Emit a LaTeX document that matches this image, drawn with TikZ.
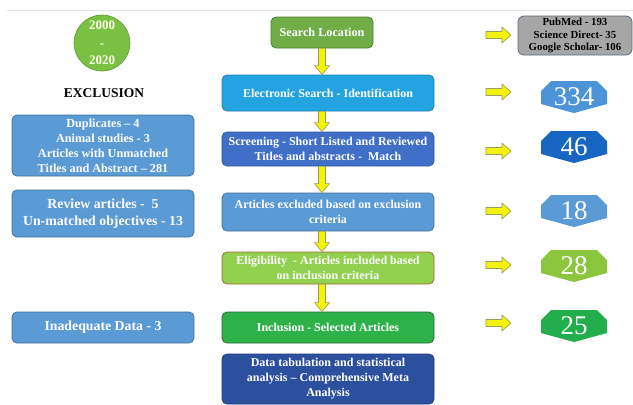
\documentclass[tikz,border=0pt]{standalone}
\usepackage{fontspec}
\setmainfont{Liberation Serif}
\usetikzlibrary{calc}
\definecolor{circg}{HTML}{7AC143}
\definecolor{circgd}{HTML}{5B9A30}
\definecolor{searchg}{HTML}{70AD47}
\definecolor{searchgd}{HTML}{4E7F30}
\definecolor{elecb}{HTML}{23A3DF}
\definecolor{elecbd}{HTML}{1C84B5}
\definecolor{scrb}{HTML}{3F6FC6}
\definecolor{scrbd}{HTML}{2F549A}
\definecolor{exb}{HTML}{5B9BD5}
\definecolor{exbd}{HTML}{41719C}
\definecolor{elig}{HTML}{92D050}
\definecolor{eligd}{HTML}{A86B2D}
\definecolor{inclg}{HTML}{2DB24A}
\definecolor{inclgd}{HTML}{2A6B35}
\definecolor{datab}{HTML}{2C4F9E}
\definecolor{databd}{HTML}{213B78}
\definecolor{grayb}{HTML}{A6A6A6}
\definecolor{graybd}{HTML}{5F6B7A}
\definecolor{hexa}{HTML}{4C93D8}
\definecolor{hexb}{HTML}{1766C1}
\definecolor{hexc}{HTML}{5B9BD5}
\definecolor{hexd}{HTML}{8CC63F}
\definecolor{hexe}{HTML}{21AE4B}
\definecolor{yel}{HTML}{F2F20A}
\definecolor{yeld}{HTML}{9C9C5A}
\definecolor{topline}{HTML}{E2E2E2}

\newcommand{\downblock}[2]{%
 \draw[yarrow] let \p1=(#1), \p2=(#2) in
  (\x1-3.5pt,\y1) -- (\x1+3.5pt,\y1) -- (\x1+3.5pt,\y2+9pt) -- (\x1+7.5pt,\y2+9pt)
  -- (\x1,\y2) -- (\x1-7.5pt,\y2+9pt) -- (\x1-3.5pt,\y2+9pt) -- cycle;}
\newcommand{\rightblock}[1]{%
 \draw[yarrow] let \p1=(#1) in
  (\x1,\y1+3.5pt) -- (\x1+16pt,\y1+3.5pt) -- (\x1+16pt,\y1+8pt) -- (\x1+25pt,\y1)
  -- (\x1+16pt,\y1-8pt) -- (\x1+16pt,\y1-3.5pt) -- (\x1,\y1-3.5pt) -- cycle;}
\newcommand{\hexnode}[4]{%
 \coordinate (#1c) at (#2);
 \fill[#3] ([shift={(-23pt,16pt)}]#1c) -- ([shift={(23pt,16pt)}]#1c)
  -- ([shift={(33pt,6pt)}]#1c) -- ([shift={(33pt,-7pt)}]#1c)
  -- ([shift={(0pt,-16pt)}]#1c) -- ([shift={(-33pt,-7pt)}]#1c)
  -- ([shift={(-33pt,6pt)}]#1c) -- cycle;
 \node[hexnum] (#1) at (#1c) {#4};}

\begin{document}
\begin{tikzpicture}[x=1pt,y=-1pt,
  cbox/.style={draw, rounded corners=5pt, minimum width=212pt, inner sep=1pt,
    text=white, align=center, line width=0.8pt,
    font=\bfseries\fontsize{12}{15}\selectfont},
  lbox/.style={cbox, minimum width=182pt, fill=exb, draw=exbd},
  yarrow/.style={fill=yel, draw=yeld, line width=0.6pt, line join=miter},
  hexnum/.style={inner sep=0pt, text=white, font=\fontsize{27}{27}\selectfont}]
\useasboundingbox (0,0) rectangle (633,405);
\fill[white] (0,0) rectangle (633,405);
\draw[topline, line width=0.8pt] (7,10.5) -- (633,10.5);

% left column
\node[circle, fill=circg, draw=circgd, line width=0.6pt, minimum size=56pt, inner sep=0pt,
  text=white!92!yellow, align=center, font=\bfseries\fontsize{13}{17.5}\selectfont]
  (years) at (102,43) {2000\\-\\2020};
\node[font=\bfseries\fontsize{13.5}{16}\selectfont] (excl) at (104,93) {EXCLUSION};
\node[lbox, minimum height=61pt, font=\bfseries\fontsize{12.2}{15}\selectfont] (dup) at (103,145.5)
  {Duplicates -- 4\\Animal studies - 3\\Articles with Unmatched\\Titles and Abstract -- 281};
\node[lbox, minimum height=47pt, font=\bfseries\fontsize{13.8}{17}\selectfont] (rev) at (103,213.5)
  {Review articles -\ \ 5\\Un-matched objectives - 13};
\node[lbox, minimum height=31pt, font=\bfseries\fontsize{13.8}{17}\selectfont] (inad) at (103,327.5)
  {Inadequate Data - 3};

% centre column
\node[cbox, minimum width=102pt, minimum height=31pt, fill=searchg, draw=searchgd,
  font=\bfseries\fontsize{12.2}{15}\selectfont] (search) at (322,32.5) {Search Location};
\node[cbox, minimum height=36pt, fill=elecb, draw=elecbd] (elec) at (328,93)
  {Electronic Search - Identification};
\node[cbox, minimum height=34pt, fill=scrb, draw=scrbd] (scr) at (328,149)
  {Screening - Short Listed and Reviewed\\Titles and abstracts -\ \ Match};
\node[cbox, minimum height=38pt, fill=exb, draw=exbd] (artex) at (328,212)
  {Articles excluded based on exclusion\\criteria};
\node[cbox, minimum height=32pt, fill=elig, draw=eligd] (eli) at (328,268)
  {Eligibility\ \ - Articles included based\\on inclusion criteria};
\node[cbox, minimum height=31pt, fill=inclg, draw=inclgd] (incl) at (328,327.5)
  {Inclusion - Selected Articles};
\node[cbox, minimum height=50pt, fill=datab, draw=databd] (data) at (328,379)
  {Data tabulation and statistical\\analysis -- Comprehensive Meta\\Analysis};

\downblock{search.south}{search |- elec.north}
\downblock{search |- elec.south}{search |- scr.north}
\downblock{search |- scr.south}{search |- artex.north}
\downblock{search |- artex.south}{search |- eli.north}
\downblock{search |- eli.south}{search |- incl.north}

% right column
\node[draw=graybd, fill=grayb, rounded corners=6pt, line width=0.8pt, minimum width=114pt,
  minimum height=39pt, inner sep=1pt, align=center,
  font=\bfseries\fontsize{10.8}{12.5}\selectfont] (src) at (575,35.5)
  {PubMed - 193\\Science Direct- 35\\Google Scholar- 106};
\hexnode{n334}{574,97}{hexa}{334}
\hexnode{n46}{574,147}{hexb}{46}
\hexnode{n18}{574,211}{hexc}{18}
\hexnode{n28}{574,266}{hexd}{28}
\hexnode{n25}{574,326}{hexe}{25}

\coordinate (r1) at (486,35);
\coordinate (r2) at (486,92);
\coordinate (r3) at (486,151);
\coordinate (r4) at (486,211);
\coordinate (r5) at (486,265);
\coordinate (r6) at (486,323);
\rightblock{r1}
\rightblock{r2}
\rightblock{r3}
\rightblock{r4}
\rightblock{r5}
\rightblock{r6}
\end{tikzpicture}
\end{document}
